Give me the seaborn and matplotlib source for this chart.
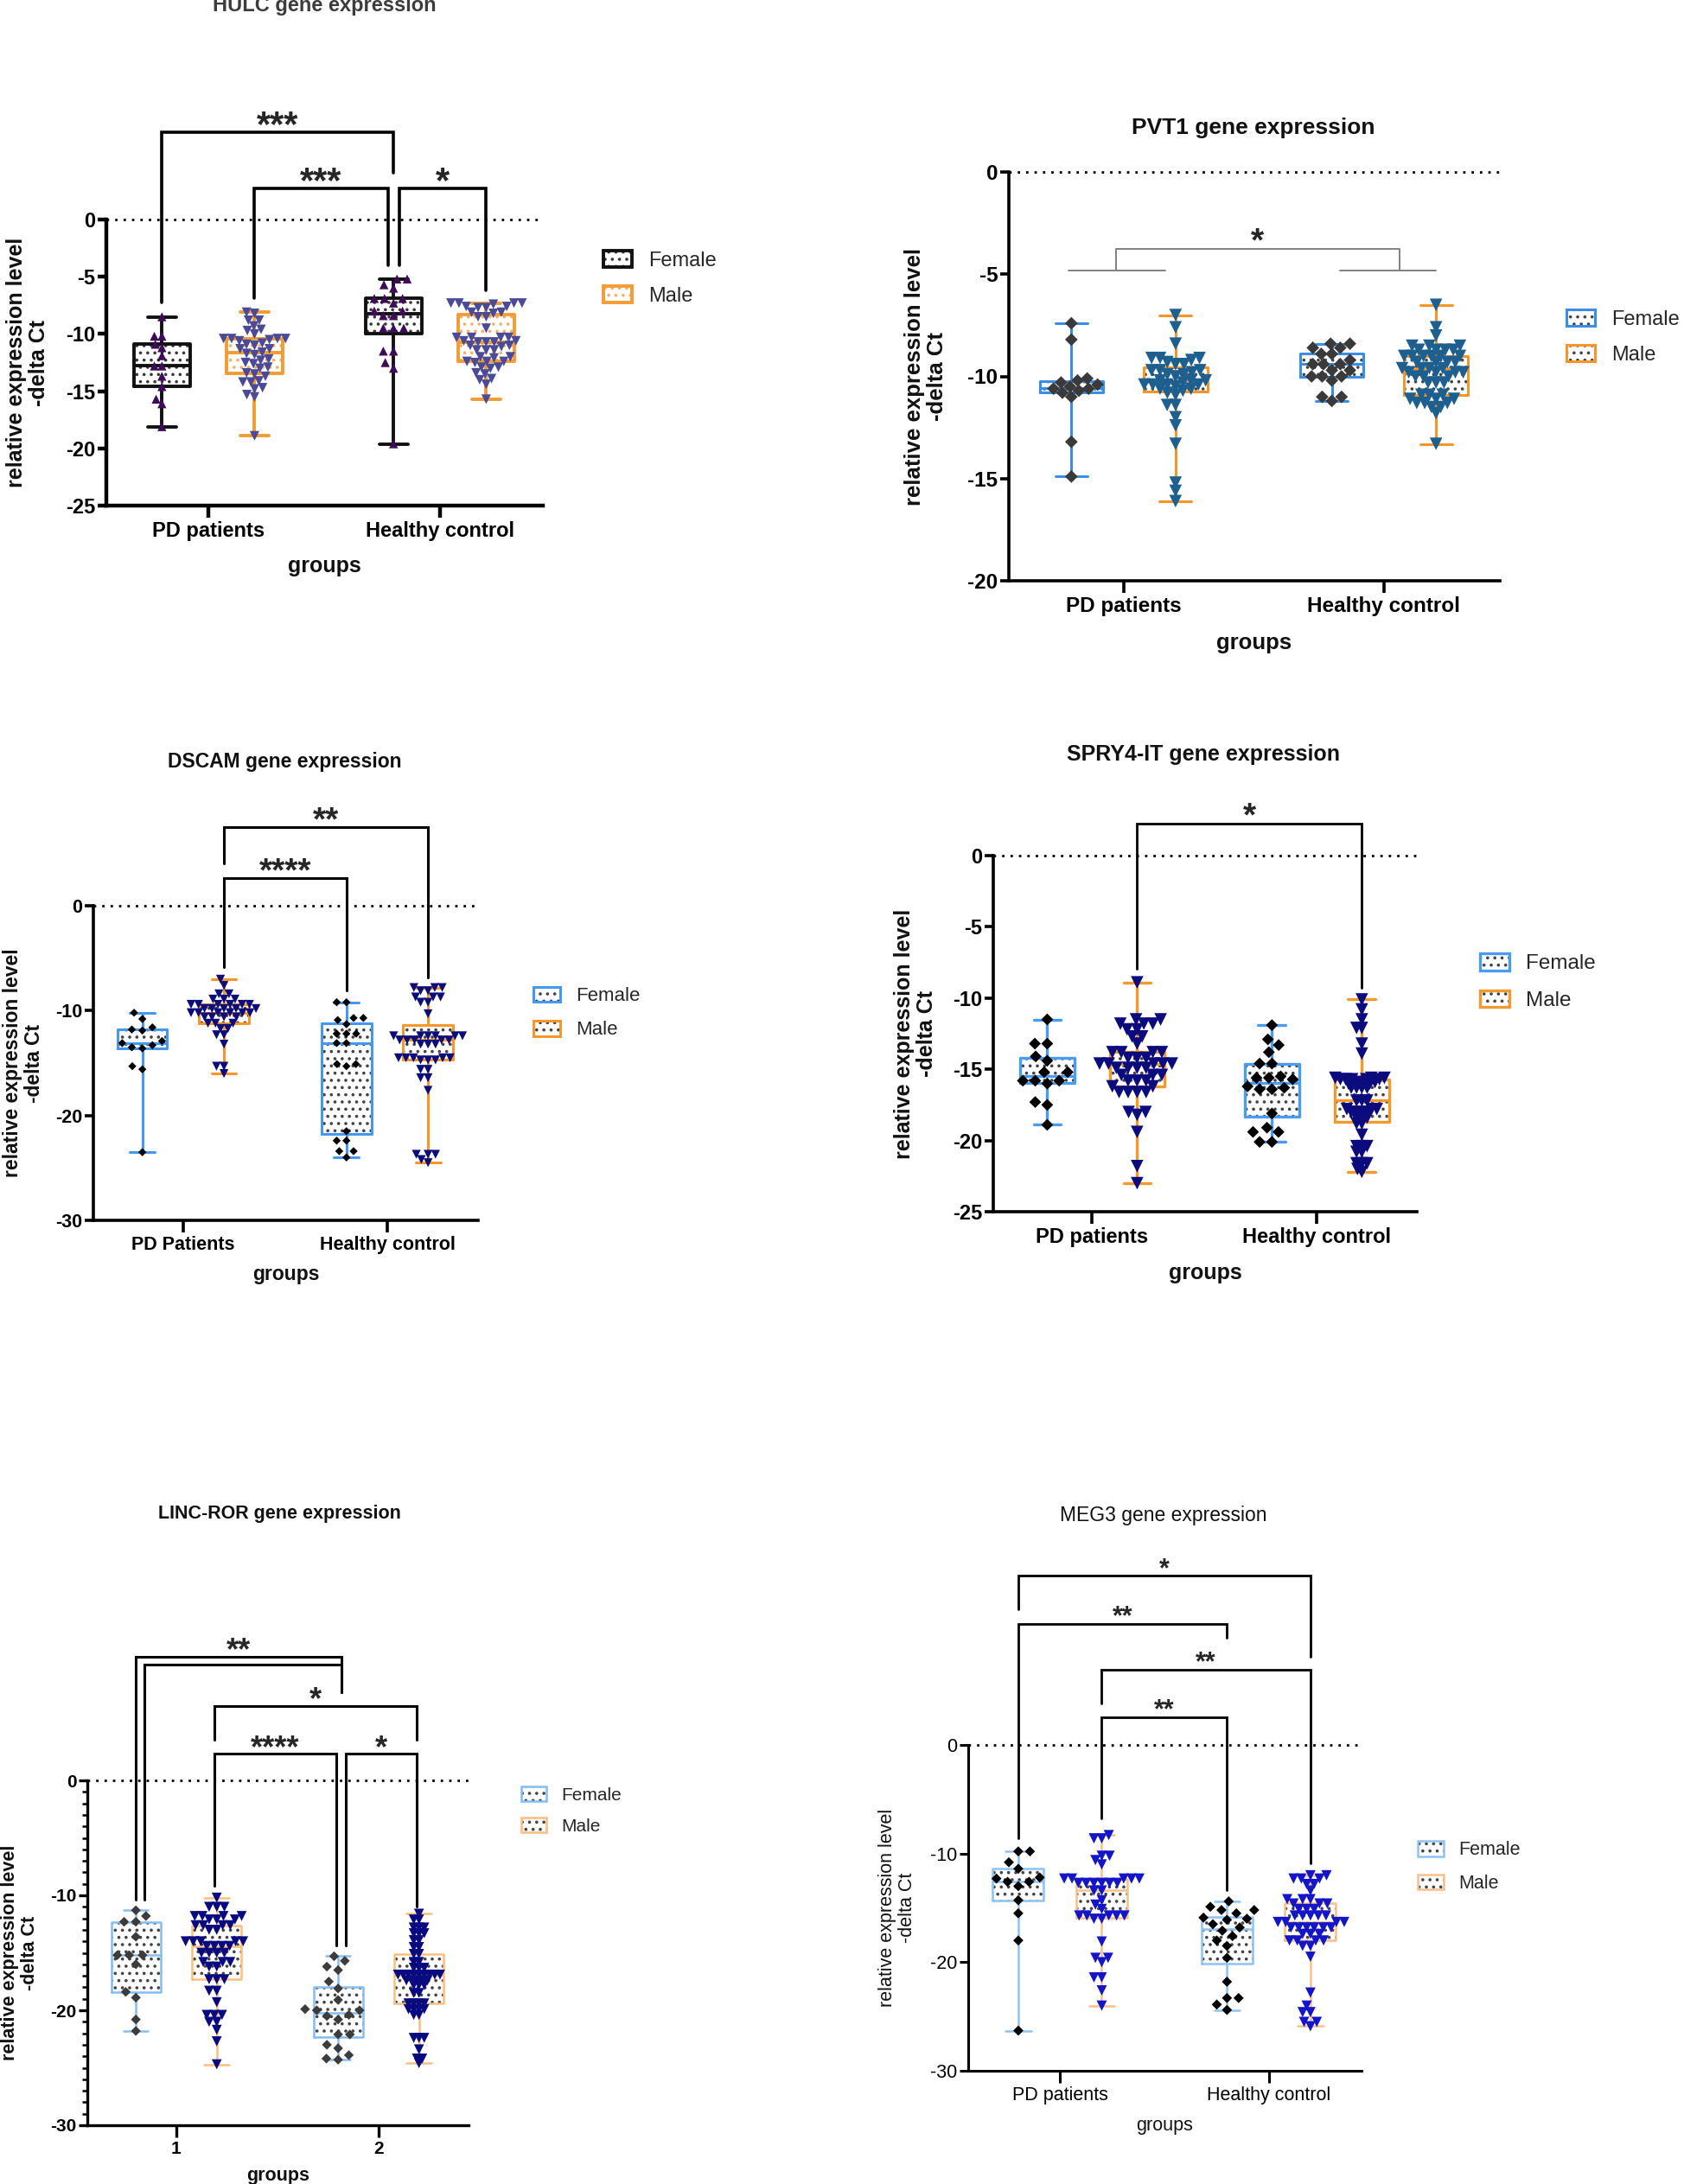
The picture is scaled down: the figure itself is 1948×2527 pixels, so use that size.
import numpy as np
import pandas as pd
import seaborn as sns
import matplotlib.pyplot as plt
from matplotlib.patches import Patch, Polygon
from matplotlib.legend_handler import HandlerTuple

# canvas size in pixels (drawn at dpi 100)
W, H, DPI = 1949, 2527, 100
SEXES = ["Female", "Male"]

# ---------------- values (-delta Ct) ----------------
hulc_groups = ["PD patients", "Healthy control"]
hulc_female_pd = [-8.5, -10.2, -10.2, -10.9, -11.2, -11.9, -12.8, -12.8, -13.7, -14.6, -15.7, -16.1, -18.1]
hulc_male_pd = [-8.1, -8.2, -8.8, -8.8, -9.3, -9.6, -9.7, -10.0, -10.4, -10.4, -10.4, -10.4, -10.5, -10.6,
                -10.8, -10.9, -11.0, -11.3, -11.3, -11.6, -11.7, -11.8, -12.2, -12.3, -12.5, -12.6, -12.9,
                -13.0, -13.4, -13.5, -13.7, -14.1, -14.2, -14.2, -14.7, -14.8, -15.3, -15.5, -18.9]
hulc_female_hc = [-5.2, -5.2, -5.7, -6.0, -6.9, -6.9, -6.9, -7.3, -8.0, -8.0, -8.4, -8.4, -9.5, -9.5, -9.5,
                  -11.5, -11.5, -12.5, -13.0, -19.6]
hulc_male_hc = [-7.3, -7.3, -7.3, -7.3, -7.4, -7.6, -7.6, -7.7, -7.7, -8.1, -8.1, -8.2, -8.5, -8.5, -9.5,
                -10.3, -10.3, -10.3, -10.3, -10.6, -10.6, -10.7, -10.7, -10.7, -11.0, -11.0, -11.1, -11.4,
                -11.4, -11.4, -12.0, -12.0, -12.1, -12.4, -12.4, -12.4, -12.5, -12.9, -12.9, -13.0, -13.4,
                -13.5, -13.9, -14.0, -14.4, -15.7]
# (bar start x, bar end x, bar height, left leg end, right leg end, stars)
hulc_brackets = [(-0.2, 0.8, 7.6, -7.25, 4.1, "***"),
                 (0.2, 0.775, 2.7, -6.9, -4.0, "***"),
                 (0.825, 1.2, 2.7, -4.0, -6.2, "*")]

pvt1_groups = ["PD patients", "Healthy control"]
pvt1_female_pd = [-7.4, -8.2, -10.1, -10.2, -10.3, -10.4, -10.5, -10.6, -10.6, -10.7, -10.8, -11.0, -13.2, -14.9]
pvt1_male_pd = [-7.0, -7.6, -8.4, -9.1, -9.1, -9.1, -9.2, -9.3, -9.4, -9.4, -9.7, -9.7, -9.7, -9.8, -9.9,
                -9.9, -10.0, -10.2, -10.2, -10.2, -10.3, -10.4, -10.4, -10.4, -10.4, -10.5, -10.6, -10.6,
                -10.7, -10.8, -10.9, -11.4, -11.4, -12.0, -12.4, -13.3, -15.2, -15.6, -16.1]
pvt1_female_hc = [-8.4, -8.4, -8.6, -8.6, -8.9, -8.9, -9.2, -9.4, -9.4, -9.4, -9.7, -9.7, -10.0, -10.0,
                  -10.0, -10.2, -11.0, -11.0, -11.2]
pvt1_male_hc = [-6.5, -7.6, -8.0, -8.5, -8.5, -8.5, -8.7, -8.7, -8.7, -8.7, -9.0, -9.0, -9.0, -9.0, -9.0,
                -9.0, -9.3, -9.3, -9.3, -9.3, -9.6, -9.6, -9.6, -9.6, -9.8, -9.8, -9.8, -9.8, -10.0, -10.0,
                -10.0, -10.3, -10.3, -10.3, -10.9, -10.9, -10.9, -11.1, -11.1, -11.1, -11.3, -11.3, -11.3,
                -11.5, -11.5, -11.8, -13.3]
# PVT1: one rule under each group, joined by a bar
pvt1_rules = [(-0.21, 0.16), (0.83, 1.2)]
pvt1_rule_y = -4.8
pvt1_join = (-0.03, 1.06, -3.76)

dscam_groups = ["PD Patients", "Healthy control"]
dscam_female_pd = [-10.2, -10.8, -11.6, -11.8, -11.9, -12.9, -13.1, -13.3, -13.5, -13.6, -15.3, -15.6, -23.5]
dscam_male_pd = [-7.0, -7.6, -8.4, -8.4, -8.9, -8.9, -8.9, -9.4, -9.4, -9.4, -9.4, -9.4, -9.4, -9.8, -9.8,
                 -9.8, -9.8, -9.8, -10.2, -10.2, -10.2, -10.2, -10.2, -10.2, -10.6, -10.6, -10.6, -10.6,
                 -11.2, -11.2, -11.2, -11.7, -11.7, -12.3, -12.3, -13.2, -15.3, -15.3, -16.0]
dscam_female_hc = [-9.2, -9.2, -10.7, -10.7, -10.9, -11.3, -12.2, -12.2, -12.2, -13.1, -13.1, -15.1, -15.1,
                   -15.3, -21.5, -22.4, -22.4, -23.4, -23.4, -24.0]
dscam_male_hc = [-7.8, -7.8, -7.8, -8.1, -8.1, -8.7, -8.7, -8.7, -9.2, -9.2, -10.3, -12.4, -12.4, -12.4,
                 -12.4, -12.4, -12.4, -12.8, -12.8, -12.8, -12.8, -12.8, -13.2, -13.2, -13.2, -14.5, -14.5,
                 -14.5, -14.5, -14.5, -14.7, -14.7, -14.7, -15.6, -15.6, -16.4, -16.4, -17.6, -23.7, -23.7,
                 -23.7, -24.2, -24.5]
dscam_brackets = [(0.2, 1.2, 7.5, 4.0, -6.8, "**"),
                  (0.2, 0.8, 2.6, -5.85, -8.1, "****")]

spry4_groups = ["PD patients", "Healthy control"]
spry4_female_pd = [-11.5, -13.2, -13.2, -14.1, -14.4, -15.2, -15.2, -15.8, -15.8, -15.8, -16.0, -17.3,
                   -17.5, -18.9]
spry4_male_pd = [-8.9, -11.5, -11.5, -11.8, -11.8, -11.8, -12.2, -12.2, -12.7, -12.7, -13.2, -13.8, -13.8,
                 -13.8, -13.8, -14.2, -14.2, -14.2, -14.6, -14.6, -14.6, -14.6, -14.6, -14.9, -14.9, -14.9,
                 -14.9, -15.4, -15.4, -15.4, -15.8, -15.8, -15.8, -16.2, -16.2, -16.6, -16.6, -16.6, -16.6,
                 -18.0, -18.0, -18.2, -19.4, -21.8, -23.0]
spry4_female_hc = [-11.9, -12.9, -13.3, -13.8, -14.6, -14.6, -15.5, -15.6, -15.6, -15.7, -16.2, -16.3,
                   -16.4, -16.4, -18.1, -19.1, -19.4, -19.4, -20.1, -20.1]
spry4_male_hc = [-10.1, -10.8, -11.5, -12.1, -12.1, -13.2, -13.9, -15.6, -15.6, -15.6, -15.7, -15.7, -15.7,
                 -15.7, -15.7, -15.9, -15.9, -15.9, -16.0, -16.0, -16.3, -16.3, -16.3, -16.3, -17.2, -17.2,
                 -17.2, -17.8, -17.8, -17.8, -18.0, -18.0, -18.0, -18.0, -18.4, -18.4, -18.4, -18.8, -18.8,
                 -19.6, -20.4, -20.4, -20.4, -20.8, -20.8, -21.6, -21.6, -21.6, -22.0, -22.2]
spry4_brackets = [(0.2, 1.2, 2.27, -7.95, -9.3, "*")]

linc_groups = ["1", "2"]
linc_female_pd = [-11.3, -11.8, -12.3, -12.3, -13.6, -15.2, -15.2, -15.2, -16.0, -18.4, -18.9, -20.8, -21.8]
linc_male_pd = [-10.2, -11.0, -11.0, -11.0, -11.8, -11.8, -11.8, -11.8, -12.1, -12.1, -12.1, -12.6, -12.6,
                -12.6, -12.6, -13.0, -13.0, -14.0, -14.0, -14.0, -14.0, -14.0, -14.4, -14.4, -14.4, -14.4,
                -15.0, -15.0, -15.0, -15.0, -15.8, -15.8, -15.8, -16.2, -16.2, -17.3, -17.3, -17.3, -18.3,
                -18.3, -19.3, -20.4, -20.4, -20.4, -21.0, -21.0, -21.7, -22.7, -24.7]
linc_female_hc = [-15.3, -15.7, -16.2, -16.5, -17.5, -18.1, -19.1, -19.9, -20.0, -20.0, -20.4, -20.8, -20.5,
                  -22.1, -22.1, -23.0, -23.3, -23.9, -24.3, -24.2]
linc_male_hc = [-11.6, -12.1, -12.1, -12.8, -12.8, -12.8, -13.3, -13.3, -13.3, -13.9, -13.9, -14.5, -14.5,
                -15.1, -15.1, -15.8, -15.8, -16.3, -16.3, -16.3, -16.9, -16.9, -16.9, -16.9, -16.9, -16.9,
                -16.9, -16.9, -16.9, -17.4, -17.4, -17.4, -17.4, -17.4, -17.8, -17.8, -17.8, -18.5, -18.5,
                -19.4, -19.4, -19.4, -19.4, -19.9, -19.9, -19.9, -19.9, -20.4, -20.4, -22.4, -22.4, -22.4,
                -23.4, -24.2, -24.2, -24.6]
linc_brackets = [(-0.2, 0.816, 10.78, -10.38, 7.67, "**"),
                 (-0.16, 0.816, 10.06, -10.38, 7.67, ""),
                 (0.188, 1.19, 6.46, 3.51, 3.51, "*"),
                 (0.188, 0.79, 2.31, -9.19, -14.37, "****"),
                 (0.84, 1.19, 2.31, -14.37, -10.98, "*")]

meg3_groups = ["PD patients", "Healthy control"]
meg3_female_pd = [-9.8, -9.8, -10.8, -11.4, -12.2, -12.3, -12.6, -12.6, -13.0, -14.3, -15.5, -18.0, -26.3]
meg3_male_pd = [-8.3, -8.6, -8.6, -10.2, -10.2, -10.6, -11.0, -12.3, -12.3, -12.3, -12.3, -12.3, -12.7,
                -12.7, -12.7, -12.7, -12.7, -12.7, -13.4, -13.4, -14.3, -14.7, -15.1, -15.7, -15.7, -15.7,
                -15.7, -15.7, -16.0, -16.0, -18.1, -19.6, -19.6, -20.0, -21.4, -21.4, -22.6, -24.0]
meg3_female_hc = [-14.4, -14.9, -15.2, -15.2, -15.5, -15.9, -16.0, -16.1, -16.5, -16.8, -17.1, -17.6, -18.0,
                  -18.5, -19.6, -21.8, -23.3, -23.3, -23.9, -24.4]
meg3_male_hc = [-12.0, -12.0, -12.3, -12.3, -12.3, -12.8, -12.8, -13.4, -14.2, -14.2, -14.2, -14.6, -14.6,
                -14.6, -15.1, -15.1, -15.1, -15.7, -15.7, -15.7, -15.7, -15.7, -16.3, -16.3, -16.3, -16.3,
                -16.8, -16.8, -16.8, -16.8, -16.8, -16.8, -17.4, -17.4, -17.4, -18.0, -18.0, -18.0, -18.0,
                -18.5, -18.5, -19.5, -22.8, -24.0, -24.6, -24.6, -25.5, -25.5, -25.9]
meg3_brackets = [(-0.2, 1.2, 15.56, 12.48, 8.14, "*"),
                 (-0.2, 0.8, 11.17, -8.6, 9.87, "**"),
                 (0.2, 1.2, 6.92, 3.84, -10.9, "**"),
                 (0.2, 0.8, 2.57, -6.78, -13.36, "**")]


def make_df(groups, f_pd, m_pd, f_hc, m_hc):
    rows = []
    for grp, sex, vals in [(groups[0], "Female", f_pd), (groups[0], "Male", m_pd),
                           (groups[1], "Female", f_hc), (groups[1], "Male", m_hc)]:
        rows += [(grp, sex, v) for v in vals]
    return pd.DataFrame(rows, columns=["group", "sex", "value"])


# --- panel layout / styling (pixel positions measured on the original figure) ---
# spread: swarm spacing factor per ((female PD, male PD), (female HC, male HC))
PANELS = [
    dict(df=make_df(hulc_groups, hulc_female_pd, hulc_male_pd, hulc_female_hc, hulc_male_hc),
         groups=hulc_groups, title="HULC gene expression", frame=(123, 628, 254, 585), ymin=-25, ytop=12,
         yticks=[0, -5, -10, -15, -20, -25], title_xy=(375, 13), xlabel_y=655, ylabel_x=32,
         legend_xy=(698, 322), box_colors=("#111111", "#f39c34"), hatch_colors=("#3a3a3a", "#f4b06a"),
         marker_colors=("#3d0b57", "#4a4a96"), markers=("^", "v"), msize=(7.5, 8.0),
         spread=((1.0, 1.0), (1.35, 1.0)),
         fs=(17, 17, 18, 17, 30), weight="bold", title_color="#3c3c3c", lw=2.8, spine_w=3.2,
         bracket_lw=2.6, star_gap=20, brackets=hulc_brackets),
    dict(df=make_df(pvt1_groups, pvt1_female_pd, pvt1_male_pd, pvt1_female_hc, pvt1_male_hc),
         groups=pvt1_groups, title="PVT1 gene expression", frame=(1167, 1735, 199, 672), ymin=-20, ytop=2,
         yticks=[0, -5, -10, -15, -20], title_xy=(1450, 155), xlabel_y=744, ylabel_x=1071,
         legend_xy=(1812, 390), box_colors=("#3b8ee6", "#f5952a"), hatch_colors=("#444444", "#444444"),
         marker_colors=("#3a3a3a", "#1d5f8f"), markers=("D", "v"), msize=(7.5, 10.5),
         spread=((0.75, 0.8), (0.8, 0.75)),
         fs=(19, 17.5, 18.5, 17, 28), weight="bold", title_color="#111111", lw=2.2, spine_w=2.6,
         bracket_lw=1.4, star_gap=20, brackets=[]),
    dict(df=make_df(dscam_groups, dscam_female_pd, dscam_male_pd, dscam_female_hc, dscam_male_hc),
         groups=dscam_groups, title="DSCAM gene expression", frame=(108, 553, 1048, 1412), ymin=-30,
         ytop=12, yticks=[0, -10, -20, -30], title_xy=(329, 888), xlabel_y=1475, ylabel_x=27,
         legend_xy=(617, 1172), box_colors=("#4499ee", "#f7962c"), hatch_colors=("#444444", "#444444"),
         marker_colors=("#000000", "#0d0d7a"), markers=("D", "v"), msize=(4.8, 7.4),
         spread=((1.25, 1.0), (1.15, 1.0)),
         fs=(16.5, 15.5, 16.5, 16, 28), weight="bold", title_color="#111111", lw=2.2, spine_w=2.6,
         bracket_lw=2.2, star_gap=19, brackets=dscam_brackets),
    dict(df=make_df(spry4_groups, spry4_female_pd, spry4_male_pd, spry4_female_hc, spry4_male_hc),
         groups=spry4_groups, title="SPRY4-IT gene expression", frame=(1149, 1639, 990, 1402), ymin=-25,
         ytop=5, yticks=[0, -5, -10, -15, -20, -25], title_xy=(1392, 880), xlabel_y=1473, ylabel_x=1059,
         legend_xy=(1712, 1136), box_colors=("#4a9cf0", "#f39a2e"), hatch_colors=("#444444", "#444444"),
         marker_colors=("#000000", "#0b0b7e"), markers=("D", "v"), msize=(7.0, 10.5),
         spread=((1.0, 0.85), (1.0, 0.5)),
         fs=(18, 17, 18, 17.5, 28), weight="bold", title_color="#111111", lw=2.4, spine_w=2.6,
         bracket_lw=2.0, star_gap=19, brackets=spry4_brackets),
    dict(df=make_df(linc_groups, linc_female_pd, linc_male_pd, linc_female_hc, linc_male_hc),
         groups=linc_groups, title="LINC-ROR gene expression", frame=(101, 542, 2060, 2459), ymin=-30,
         ytop=14, yticks=[0, -10, -20, -30], title_xy=(323, 1757), xlabel_y=2517, ylabel_x=23,
         legend_xy=(603, 2095), box_colors=("#86bdf3", "#f9bf7e"), hatch_colors=("#444444", "#444444"),
         marker_colors=("#3c3c3c", "#0a0a80"), markers=("D", "v"), msize=(5.8, 8.4),
         spread=((1.15, 0.9), (1.15, 0.62)),
         fs=(15.5, 15, 15.5, 15, 26), weight="bold", title_color="#111111", lw=1.8, spine_w=2.4,
         bracket_lw=2.2, star_gap=17, brackets=linc_brackets, minor=True),
    dict(df=make_df(meg3_groups, meg3_female_pd, meg3_male_pd, meg3_female_hc, meg3_male_hc),
         groups=meg3_groups, title="MEG3 gene expression", frame=(1120, 1575, 2019, 2396), ymin=-30,
         ytop=19, yticks=[0, -10, -20, -30], title_xy=(1346, 1760), xlabel_y=2459, ylabel_x=1038,
         legend_xy=(1640, 2160), box_colors=("#8ec3f2", "#f8c08a"), hatch_colors=("#444444", "#444444"),
         marker_colors=("#000000", "#1414c8"), markers=("D", "v"), msize=(6.0, 8.6),
         spread=((1.1, 0.9), (1.1, 0.9)),
         fs=(16.5, 15.5, 15.5, 15.5, 22), weight="normal", title_color="#111111", lw=1.8, spine_w=2.2,
         bracket_lw=2.0, star_gap=17, brackets=meg3_brackets),
]

sns.set_theme(style="ticks")
plt.rcParams["font.family"] = ["Liberation Sans", "DejaVu Sans"]
plt.rcParams["axes.unicode_minus"] = False
plt.rcParams["hatch.linewidth"] = 1.4

fig = plt.figure(figsize=(W / DPI, H / DPI), dpi=DPI)
swarms = []


def fx(px):
    return px / W


def fy(py):
    return 1 - py / H


def draw_panel(p):
    x0, x1, y0, yb = p["frame"]
    ppu = (yb - y0) / (-p["ymin"])
    top = y0 - p["ytop"] * ppu
    ax = fig.add_axes([fx(x0), fy(yb), (x1 - x0) / W, (yb - top) / H])
    df, groups = p["df"], p["groups"]
    t_fs, tick_fs, lab_fs, leg_fs, star_fs = p["fs"]

    ax.axhline(0, color="black", lw=2, ls=(0, (1, 2.5)), zorder=1)

    # min-to-max boxes drawn as line art, dotted fill added underneath
    n0 = len(ax.lines)
    sns.boxplot(data=df, x="group", y="value", hue="sex", order=groups, hue_order=SEXES,
                palette=dict(zip(SEXES, p["box_colors"])), fill=False, whis=(0, 100), width=0.8,
                gap=0.39, linewidth=p["lw"], saturation=1, legend=False, ax=ax)
    for line in ax.lines[n0:]:
        xy = line.get_xydata()
        if len(xy) == 5:
            centre = xy[:4, 0].mean()
            k = 0 if centre < round(centre) else 1
            ax.add_patch(Polygon(xy, closed=True, facecolor="white", edgecolor=p["hatch_colors"][k],
                                 linewidth=0, hatch="..", zorder=1.5))

    for g, grp in enumerate(groups):
        for i, sex in enumerate(SEXES):
            marker = p["markers"][i]
            # swarm spacing: diamonds are wider than their nominal size
            lay = p["msize"][i] * (1.4 if marker == "D" else 0.8) * p["spread"][g][i]
            sub = df[(df["sex"] == sex) & (df["group"] == grp)]
            n0 = len(ax.collections)
            sns.swarmplot(data=sub, x="group", y="value", hue="sex", order=groups, hue_order=SEXES,
                          dodge=True, palette=dict(zip(SEXES, p["marker_colors"])), marker=marker,
                          size=lay, linewidth=0, legend=False, warn_thresh=1, ax=ax)
            for coll in ax.collections[n0:]:
                coll.set_zorder(3)
                swarms.append((coll, p["msize"][i]))

    ax.set_xlim(-0.44, 1.445)
    ax.set_ylim(p["ymin"], p["ytop"])
    ax.set_xticks([0, 1], labels=groups, fontsize=tick_fs, fontweight=p["weight"])
    ax.set_yticks(p["yticks"], labels=[str(t) for t in p["yticks"]], fontsize=tick_fs,
                  fontweight=p["weight"])
    if p.get("minor"):
        ax.set_yticks(np.arange(p["ymin"], 1, 1), minor=True)
        ax.tick_params(axis="y", which="minor", length=4, width=1.8, color="black")
    ax.set_xlabel("")
    ax.set_ylabel("")
    sns.despine(ax=ax)
    ax.spines["left"].set_bounds(p["ymin"], 0)
    for s in ("left", "bottom"):
        ax.spines[s].set_linewidth(p["spine_w"])
        ax.spines[s].set_color("black")
    ax.tick_params(axis="y", which="major", length=7, width=p["spine_w"], pad=2, colors="black")
    ax.tick_params(axis="x", length=10, width=p["spine_w"], pad=3, colors="black")

    # significance brackets
    off = p["star_gap"] * 72 / DPI - 0.57 * star_fs
    for xa, xb, ybar, ya, yc, stars in p["brackets"]:
        ax.plot([xa, xa, xb, xb], [ya, ybar, ybar, yc], color="black", lw=p["bracket_lw"],
                clip_on=False, solid_joinstyle="miter", zorder=2)
        if stars:
            ax.annotate(stars, xy=((xa + xb) / 2, ybar), xytext=(0, off), textcoords="offset points",
                        ha="center", va="baseline", fontsize=star_fs, fontweight="bold",
                        annotation_clip=False)
    if p["title"].startswith("PVT1"):
        for xa, xb in pvt1_rules:
            ax.plot([xa, xb], [pvt1_rule_y, pvt1_rule_y], color="#808080", lw=p["bracket_lw"],
                    clip_on=False)
        ja, jb, jy = pvt1_join
        ax.plot([ja, ja, jb, jb], [pvt1_rule_y, jy, jy, pvt1_rule_y], color="#808080",
                lw=p["bracket_lw"], clip_on=False)
        ax.annotate("*", xy=((ja + jb) / 2, jy), xytext=(0, off), textcoords="offset points",
                    ha="center", va="baseline", fontsize=star_fs, fontweight="bold")

    # titles and axis labels (title given by its baseline)
    fig.text(fx(p["title_xy"][0]), fy(p["title_xy"][1]), p["title"], ha="center", va="baseline",
             fontsize=t_fs, fontweight=p["weight"], color=p["title_color"])
    fig.text(fx((x0 + x1) / 2), fy(p["xlabel_y"]), "groups", ha="center", va="center",
             fontsize=lab_fs, fontweight=p["weight"], color="#111111")
    fig.text(fx(p["ylabel_x"]), fy((y0 + yb) / 2), "relative expression level\n-delta Ct",
             rotation=90, ha="center", va="center", multialignment="center", linespacing=1.1,
             fontsize=lab_fs, fontweight=p["weight"], color="#111111")

    handles = []
    for c, hc in zip(p["box_colors"], p["hatch_colors"]):
        dots = Patch(facecolor="white", edgecolor=hc, linewidth=0, hatch="..")
        frame = Patch(facecolor="none", edgecolor=c, linewidth=p["lw"])
        handles.append((dots, frame))
    fig.legend(handles, SEXES, handler_map={tuple: HandlerTuple(ndivide=1, pad=0)},
               loc="center left", bbox_to_anchor=(fx(p["legend_xy"][0]), fy(p["legend_xy"][1])),
               frameon=False, fontsize=leg_fs, handlelength=1.4, handleheight=0.85,
               handletextpad=0.8, labelspacing=0.8, borderpad=0, borderaxespad=0)


for panel in PANELS:
    draw_panel(panel)

# lay the swarms out with small markers, then show them at full size (overlapping like the original)
fig.canvas.draw()
for coll, size in swarms:
    coll.__dict__.pop("draw", None)
    coll.set_sizes([size ** 2])

fig.savefig("out.png", dpi=DPI)
